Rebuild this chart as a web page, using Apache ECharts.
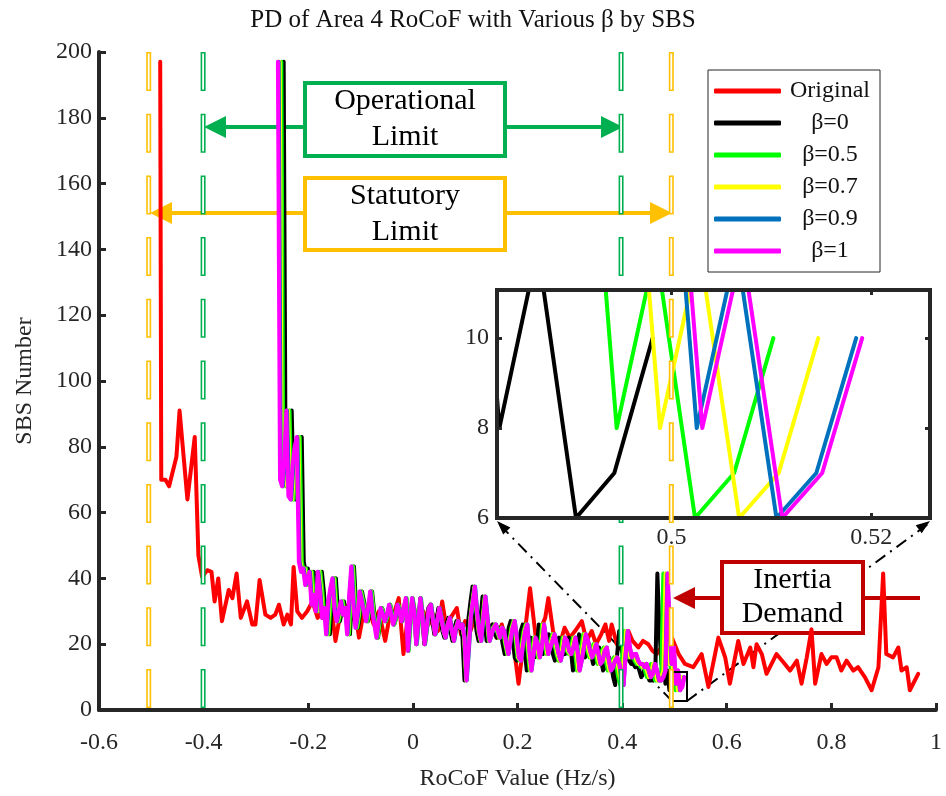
<!DOCTYPE html>
<html lang="en">
<head>
<meta charset="UTF-8">
<title>PD of Area 4 RoCoF</title>
<style>
    html, body { margin: 0; padding: 0; background: #fff; }
    #chart { width: 946px; height: 796px; }
</style>
<script src="https://cdn.jsdelivr.net/npm/echarts@6.0.0/dist/echarts.min.js"></script>
</head>
<body>
<div id="chart"></div>
<script>
    // ---- data ----
    var legendNames = ['Original', 'β=0', 'β=0.5', 'β=0.7', 'β=0.9', 'β=1'];
    var seriesColors = ['#FF0000', '#000000', '#00FF00', '#FFFF00', '#0072BD', '#FF00FF'];

    // Original (red) curve
    var redX = [-0.483,-0.481,-0.473,-0.466,-0.452,-0.446,-0.431,-0.417,-0.410,-0.403,
        -0.393,-0.385,-0.379,-0.372,-0.365,-0.352,-0.345,-0.337,-0.329,-0.317,
        -0.307,-0.301,-0.293,-0.282,-0.272,-0.263,-0.256,-0.247,-0.240,-0.233,
        -0.228,-0.221,-0.212,-0.202,-0.192,-0.182,-0.172,-0.162,-0.155,-0.148,
        -0.140,-0.130,-0.120,-0.110,-0.103,-0.095,-0.085,-0.075,-0.065,-0.053,
        -0.045,-0.035,-0.027,-0.018,-0.010,0.000,0.010,0.020,0.030,0.040,
        0.048,0.056,0.064,0.072,0.084,0.092,0.100,0.110,0.120,0.130,
        0.140,0.150,0.160,0.170,0.180,0.190,0.202,0.212,0.224,0.235,
        0.245,0.253,0.259,0.268,0.279,0.290,0.300,0.310,0.323,0.332,
        0.342,0.350,0.360,0.368,0.375,0.380,0.390,0.400,0.412,0.420,
        0.431,0.440,0.450,0.458,0.466,0.475,0.485,0.495,0.508,0.520,
        0.536,0.552,0.565,0.584,0.597,0.606,0.622,0.632,0.645,0.651,
        0.657,0.667,0.676,0.695,0.711,0.721,0.734,0.743,0.753,0.762,
        0.769,0.781,0.791,0.800,0.810,0.819,0.829,0.842,0.851,0.864,
        0.877,0.890,0.899,0.905,0.918,0.928,0.934,0.944,0.950,0.966];
    var redY = [197,70,70,68,77,91,64,83,47,40.5,
        42.5,42,33,40,27,36.5,34,41.5,28,33,
        26,26,39.5,29,28,29,32,26,29,26,
        43.5,30,28,30,33,28,31,26,30,21,
        28,32,27,30,22,29,31,26,30,21,
        28,30,34,17,28,32,27,30,26,29,
        24,33,25,28,31,23,27,24,29,22,
        27,25,22,26,20,23,8,21,37,22,
        25,28,34,24,19,25,22,24,27,21,
        24,20,23,26,21,26,20,22,24,21,
        19,21,20,18,17,19,18,22,17,14,
        13,17,7,22,16,8,21,14,19,13,
        20,17,11,17,14,12,15,8,16,24.5,
        8,17,14,16,16,12,15,12,13,10,
        6,13,41.5,17,16,19,12,13,6,11];

    // SBS curves: same bin counts for every beta, each spread over its own RoCoF range
    var sbsCounts = [197,70,68,76,91,65,64,74,80,83,
        45,42,43,38,40,42,32,35,30,42,
        36,28,31,23,33,37,40,30,27,30,
        33,29,31,23,35,43.6,32,25,29,36,
        33,30,27,31,36,30,26,22,27,31,
        29,27,29,32,29,26,28,32,30,27,
        31,34,18,27,34,30,20,27,34,28,
        20,25,31,32,27,23,27,31,28,24,
        22,26,28,24,21,25,27,25,26,22,
        9,18,28,33,37.5,30,24,21,28,34.5,
        28,21,23,25,26,24,22,25,24,20,
        17,21,25,27,22,16,15,20,24,26,
        18,12,17,22,20,16,19,26,22,17,
        19,21,23,20,17,15,18,22,21,18,
        17,19,22,18,12,15,19,23,21,18,
        16,18,20,17,14,15,18,19,15,12,
        13,15,16,14,10,7.6,17,24,19,16,
        17,17,15,14,14,13,14,12,10,11,
        14,12,9,9,10,12,41.5,25,14,19,
        8,12,6,7,10];
    var betaStart = [-0.247, -0.2515, -0.2545, -0.2565, -0.258];
    var betaEnd = [0.4981, 0.5102, 0.5147, 0.5185, 0.5191];

    // limit lines
    var statutoryX = [-0.505, 0.494];
    var operationalX = [-0.401, 0.398];

    // axis ticks
    var xTicks = { min: -0.6, max: 1, step: 0.2 };
    var yTicks = { min: 0, max: 200, step: 20 };
    var insetX = { min: 0.4825, max: 0.5259, labels: [0.5, 0.52] };
    var insetY = { min: 6, max: 11.07, labels: [6, 8, 10] };

    // ---- chart ----
    var FONT = "'Liberation Serif', 'Times New Roman', serif";
    var AXC = '#262626';
    var mCharts = echarts.init(document.getElementById('chart'));

    function betaPoints(k) {
        var pts = [];
        var step = (betaEnd[k] - betaStart[k]) / (sbsCounts.length - 1);
        for (var i = 0; i < sbsCounts.length; i++) {
            pts.push([betaStart[k] + i * step, sbsCounts[i]]);
        }
        return pts;
    }
    function lineSeries(name, color, data, axisIdx, z) {
        return {
            name: name, type: 'line', data: data,
            xAxisIndex: axisIdx, yAxisIndex: axisIdx,
            showSymbol: false, symbol: 'none', z: z, clip: true,
            color: color,
            lineStyle: { color: color, width: 4, cap: 'round', join: 'round' },
            animation: false
        };
    }
    function dashedLimit(x, color, z) {
        var d = [[x, yTicks.max], [x, yTicks.min]];
        return [
            { type: 'line', data: d, symbol: 'none', z: z, silent: true, animation: false,
              lineStyle: { color: color, width: 5, type: [39, 22.7] } },
            { type: 'line', data: d, symbol: 'none', z: z, silent: true, animation: false,
              lineStyle: { color: '#fff', width: 1.8, type: [36, 25.7], dashOffset: -1.5 } }
        ];
    }

    var series = [];
    series.push(lineSeries('Original', seriesColors[0], redX.map(function (x, i) { return [x, redY[i]]; }), 0, 2));
    for (var k = 0; k < 5; k++) {
        series.push(lineSeries(legendNames[k + 1], seriesColors[k + 1], betaPoints(k), 0, 2));
    }
    for (var k2 = 0; k2 < 5; k2++) {
        series.push(lineSeries(legendNames[k2 + 1], seriesColors[k2 + 1], betaPoints(k2), 1, 6));
    }
    operationalX.forEach(function (x) { series = series.concat(dashedLimit(x, '#00B050', 3)); });
    statutoryX.forEach(function (x) { series = series.concat(dashedLimit(x, '#FFC000', 12)); });

    var labelStyle = { fontFamily: FONT, fontSize: 24, color: AXC };

    // annotations (boxes, arrows, zoom connectors)
    function arrowHead(tip, dir, color) {
        var L = 22, W = 11;
        return { type: 'polygon', z: 1, silent: true,
            shape: { points: [[tip, 0], [tip - dir * L, -W], [tip - dir * L, W]] },
            style: { fill: color } };
    }
    function hArrow(y, x1, x2, tip, dir, color) {
        var head = arrowHead(tip, dir, color);
        head.shape.points = head.shape.points.map(function (p) { return [p[0], p[1] + y]; });
        return [
            { type: 'line', z: 1, silent: true, shape: { x1: x1, y1: y, x2: x2, y2: y },
              style: { stroke: color, lineWidth: 4 } },
            head
        ];
    }
    function box(x, y, w, h, color, lines, lineYs) {
        var els = [{ type: 'rect', z: 1, silent: true, shape: { x: x, y: y, width: w, height: h },
            style: { fill: '#fff', stroke: color, lineWidth: 4 } }];
        lines.forEach(function (t, i) {
            els.push({ type: 'text', z: 1, silent: true,
                style: { text: t, x: x + w / 2, y: lineYs[i], font: '30px ' + FONT,
                    fill: '#000', textAlign: 'center', textVerticalAlign: 'middle' } });
        });
        return els;
    }

    var graphics = [];
    graphics = graphics.concat(hArrow(127, 305, 222, 204, -1, '#00B050'));
    graphics = graphics.concat(hArrow(127, 505, 606, 623, 1, '#00B050'));
    graphics = graphics.concat(hArrow(213, 305, 168, 150, -1, '#FFC000'));
    graphics = graphics.concat(hArrow(213, 505, 655, 672, 1, '#FFC000'));
    graphics = graphics.concat(hArrow(598, 722, 692, 673, -1, '#C00000'));
    graphics.push({ type: 'line', z: 1, silent: true, shape: { x1: 863, y1: 598, x2: 920, y2: 598 },
        style: { stroke: '#C00000', lineWidth: 4 } });
    // zoom connectors
    graphics.push({ type: 'line', z: 1, silent: true, shape: { x1: 672, y1: 701, x2: 499, y2: 524 },
        style: { stroke: '#000', lineWidth: 2, lineDash: [12, 6, 2, 6] } });
    graphics.push({ type: 'line', z: 1, silent: true, shape: { x1: 687, y1: 701, x2: 928, y2: 524 },
        style: { stroke: '#000', lineWidth: 2, lineDash: [12, 6, 2, 6] } });
    graphics.push({ type: 'polygon', z: 11, silent: true,
        shape: { points: [[497, 521], [510.4, 527.5], [503.2, 534.5]] }, style: { fill: '#000' } });
    graphics.push({ type: 'polygon', z: 11, silent: true,
        shape: { points: [[930, 521], [921.7, 533.3], [915.7, 525.3]] }, style: { fill: '#000' } });
    graphics.push({ type: 'rect', z: 3, silent: true, shape: { x: 672, y: 672, width: 15, height: 29 },
        style: { fill: 'none', stroke: '#000', lineWidth: 2 } });
    graphics = graphics.concat(box(305, 83, 200, 73, '#00B050', ['Operational', 'Limit'], [101, 137]));
    graphics = graphics.concat(box(305, 178, 200, 72, '#FFC000', ['Statutory', 'Limit'], [196, 232]));
    graphics = graphics.concat(box(722, 562, 141, 71, '#C00000', ['Inertia', 'Demand'], [580, 614]));
    // white backing of the inset
    graphics.push({ type: 'rect', z: 5, silent: true, shape: { x: 497, y: 290, width: 433, height: 228 },
        style: { fill: '#fff' } });

    var insetTick = { show: true, inside: true, length: 5, lineStyle: { color: AXC, width: 3 } };

    var option = {
        animation: false,
        backgroundColor: '#fff',
        title: {
            text: 'PD of Area 4 RoCoF with Various β by SBS',
            left: 'center', top: 3,
            textStyle: { fontFamily: FONT, fontSize: 25, fontWeight: 'normal', color: '#111' }
        },
        legend: {
            data: legendNames,
            orient: 'vertical',
            left: 708, top: 70,
            padding: [9, 6, 9, 6],
            itemWidth: 67, itemHeight: 5, itemGap: 8,
            icon: 'roundRect',
            backgroundColor: '#fff', borderColor: '#262626', borderWidth: 1,
            formatter: function (n) { return '{t|' + n + '}'; },
            textStyle: { rich: { t: { width: 88, align: 'center', fontFamily: FONT, fontSize: 24,
                lineHeight: 24, color: '#111' } } },
            z: 20
        },
        grid: [
            { left: 99, right: 10, top: 52, bottom: 84, show: false },
            { left: 497, top: 290, width: 433, height: 228, show: true, z: 10,
              backgroundColor: 'rgba(0,0,0,0)', borderColor: AXC, borderWidth: 4 }
        ],
        xAxis: [
            {
                gridIndex: 0, type: 'value', min: xTicks.min, max: xTicks.max, interval: xTicks.step,
                axisLine: { onZero: false, lineStyle: { color: AXC, width: 4 } },
                axisTick: { inside: true, length: 7, lineStyle: { color: AXC, width: 3 } },
                axisLabel: { fontFamily: FONT, fontSize: 24, color: AXC, margin: 21,
                    formatter: function (v) { return String(+v.toFixed(1)); } },
                splitLine: { show: false },
                name: 'RoCoF Value (Hz/s)', nameLocation: 'middle', nameGap: 57,
                nameTextStyle: { fontFamily: FONT, fontSize: 24, color: AXC }
            },
            {
                gridIndex: 1, type: 'value', min: insetX.min, max: insetX.max, z: 11,
                axisLine: { show: false },
                axisTick: Object.assign({ customValues: insetX.labels }, insetTick),
                axisLabel: Object.assign({ customValues: insetX.labels, margin: 8,
                    formatter: function (v) { return String(+v.toFixed(2)); } }, labelStyle),
                splitLine: { show: false }
            },
            {
                gridIndex: 1, type: 'value', position: 'top', min: insetX.min, max: insetX.max, z: 11,
                axisLine: { show: false },
                axisTick: Object.assign({ customValues: insetX.labels }, insetTick),
                axisLabel: { show: false }, splitLine: { show: false }
            }
        ],
        yAxis: [
            {
                gridIndex: 0, type: 'value', min: yTicks.min, max: yTicks.max, interval: yTicks.step,
                axisLine: { show: true, onZero: false, lineStyle: { color: AXC, width: 4 } },
                axisTick: { show: true, inside: true, length: 7, lineStyle: { color: AXC, width: 3 } },
                axisLabel: { fontFamily: FONT, fontSize: 24, color: AXC, margin: 7 },
                splitLine: { show: false },
                name: 'SBS Number', nameLocation: 'middle', nameGap: 62,
                nameTextStyle: { fontFamily: FONT, fontSize: 24, color: AXC }
            },
            {
                gridIndex: 1, type: 'value', min: insetY.min, max: insetY.max, z: 11,
                axisLine: { show: false },
                axisTick: Object.assign({ customValues: insetY.labels }, insetTick),
                axisLabel: Object.assign({ customValues: insetY.labels, margin: 8 }, labelStyle),
                splitLine: { show: false }
            },
            {
                gridIndex: 1, type: 'value', position: 'right', min: insetY.min, max: insetY.max, z: 11,
                axisLine: { show: false },
                axisTick: Object.assign({ customValues: insetY.labels }, insetTick),
                axisLabel: { show: false }, splitLine: { show: false }
            }
        ],
        graphic: graphics,
        series: series
    };
    mCharts.setOption(option);
</script>
</body>
</html>
